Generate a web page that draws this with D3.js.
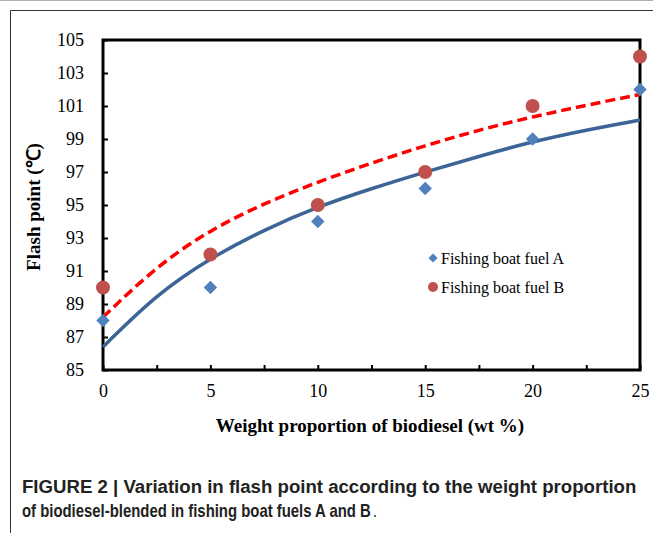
<html>
<head>
<meta charset="utf-8">
<script src="https://d3js.org/d3.v7.min.js"></script>
<style>
body{margin:0;background:#fff;}
svg{display:block;}
.tick text{font-family:"Liberation Serif","Times New Roman",serif;}
</style>
</head>
<body>
<script>
// measured points
var wtPct = [0, 5, 10, 15, 20, 25];
var fuelA = [88, 90, 94, 96, 99, 102];
var fuelB = [90, 92, 95, 97, 101, 104];
// trend curves
var trendX = [0, 2.5, 5, 7.5, 10, 12.5, 15, 17.5, 20, 22.5, 25];
var trendA = [86.4, 89.6, 91.8, 93.5, 94.9, 96.0, 97.0, 97.95, 98.85, 99.55, 100.15];
var trendB = [88.2, 91.3, 93.5, 95.1, 96.4, 97.55, 98.6, 99.55, 100.35, 101.05, 101.7];
var yTicks = [85, 87, 89, 91, 93, 95, 97, 99, 101, 103, 105];
var xTicks = [0, 2.5, 5, 7.5, 10, 12.5, 15, 17.5, 20, 22.5, 25];
var legendNames = ["Fishing boat fuel A", "Fishing boat fuel B"];

var W = 653, H = 533;
var L = 103, R = 640, T = 40, B = 370;

var svg = d3.select("body").append("svg").attr("width", W).attr("height", H);

// figure frame
svg.append("line").attr("x1", 0).attr("x2", W).attr("y1", 0.5).attr("y2", 0.5).attr("stroke", "#b0b0b0");
svg.append("path").attr("d", "M10.5," + H + "V10.5H" + W).attr("fill", "none").attr("stroke", "#333").attr("stroke-width", 1);

var x = d3.scaleLinear().domain([0, 25]).range([L, R]);
var y = d3.scaleLinear().domain([85, 105]).range([B, T]);

// axes, ticks inside
var xAxis = d3.axisBottom(x).tickValues(xTicks).tickSize(-5).tickPadding(14)
  .tickFormat(function(d){ return d % 5 === 0 ? d : ""; });
var gx = svg.append("g").attr("transform", "translate(0," + B + ")").call(xAxis);
gx.select(".domain").remove();
gx.selectAll(".tick line").attr("stroke", "#000").attr("stroke-width", 2);
gx.selectAll(".tick text").attr("font-size", 18).attr("fill", "#000");

var yAxis = d3.axisLeft(y).tickValues(yTicks).tickSize(-5).tickPadding(19);
var gy = svg.append("g").attr("transform", "translate(" + L + ",0)").call(yAxis);
gy.select(".domain").remove();
gy.selectAll(".tick line").attr("stroke", "#000").attr("stroke-width", 2);
gy.selectAll(".tick text").attr("font-size", 18).attr("fill", "#000");

// plot box
svg.append("rect").attr("x", L).attr("y", T).attr("width", R - L).attr("height", B - T)
  .attr("fill", "none").attr("stroke", "#000").attr("stroke-width", 3);

// trend lines
var trend = d3.line().x(function(d, i){ return x(trendX[i]); }).y(function(d){ return y(d); }).curve(d3.curveBasis);
svg.append("path").attr("d", trend(trendA)).attr("fill", "none").attr("stroke", "#3c6496").attr("stroke-width", 3.5);
svg.append("path").attr("d", trend(trendB)).attr("fill", "none").attr("stroke", "#ff0000").attr("stroke-width", 3.5)
  .attr("stroke-dasharray", "10,5");

// markers
var diamond = d3.symbol().type(d3.symbolSquare).size(90);
svg.selectAll(".ptA").data(fuelA).enter().append("path").attr("class", "ptA")
  .attr("d", diamond)
  .attr("transform", function(d, i){ return "translate(" + x(wtPct[i]) + "," + y(d) + ") rotate(45)"; })
  .attr("fill", "#4f81bd");
svg.selectAll(".ptB").data(fuelB).enter().append("circle").attr("class", "ptB")
  .attr("cx", function(d, i){ return x(wtPct[i]); })
  .attr("cy", function(d){ return y(d); })
  .attr("r", 7).attr("fill", "#c0504d");

// legend
var lg = svg.append("g").attr("font-family", "Liberation Serif, Times New Roman, serif").attr("font-size", 16);
lg.append("path").attr("d", d3.symbol().type(d3.symbolSquare).size(42)).attr("transform", "translate(433,258) rotate(45)").attr("fill", "#4f81bd");
lg.append("text").attr("x", 441).attr("y", 264).text(legendNames[0]);
lg.append("circle").attr("cx", 433).attr("cy", 287).attr("r", 5).attr("fill", "#c0504d");
lg.append("text").attr("x", 441).attr("y", 293).text(legendNames[1]);

// axis titles
svg.append("text").attr("transform", "translate(40,207) rotate(-90)").attr("text-anchor", "middle")
  .attr("font-family", "Liberation Serif, Times New Roman, serif").attr("font-weight", "bold").attr("font-size", 19)
  .text("Flash point (\u2103)");
svg.append("text").attr("x", 370).attr("y", 432).attr("text-anchor", "middle")
  .attr("font-family", "Liberation Serif, Times New Roman, serif").attr("font-weight", "bold").attr("font-size", 19)
  .text("Weight proportion of biodiesel (wt %)");

// caption (narrow look done with a horizontal squeeze)
var cap = svg.append("g").attr("font-family", "Liberation Sans Narrow, Arial Narrow, Liberation Sans, Arial, sans-serif")
  .attr("font-size", 19).attr("fill", "#222");
function squeezed(txt, x0, y0, width, bold) {
  var t = cap.append("text").attr("font-weight", bold ? "bold" : "normal").text(txt);
  var len = t.node().getComputedTextLength();
  t.attr("transform", "translate(" + x0 + "," + y0 + ") scale(" + (width / len) + ",1)");
  return t;
}
squeezed("FIGURE 2 | Variation in flash point according to the weight proportion", 22, 493, 615, true);
squeezed("of biodiesel-blended in fishing boat fuels A and B", 22, 517, 349, true);
squeezed(".", 373, 517, 4, false);
</script>
</body>
</html>
